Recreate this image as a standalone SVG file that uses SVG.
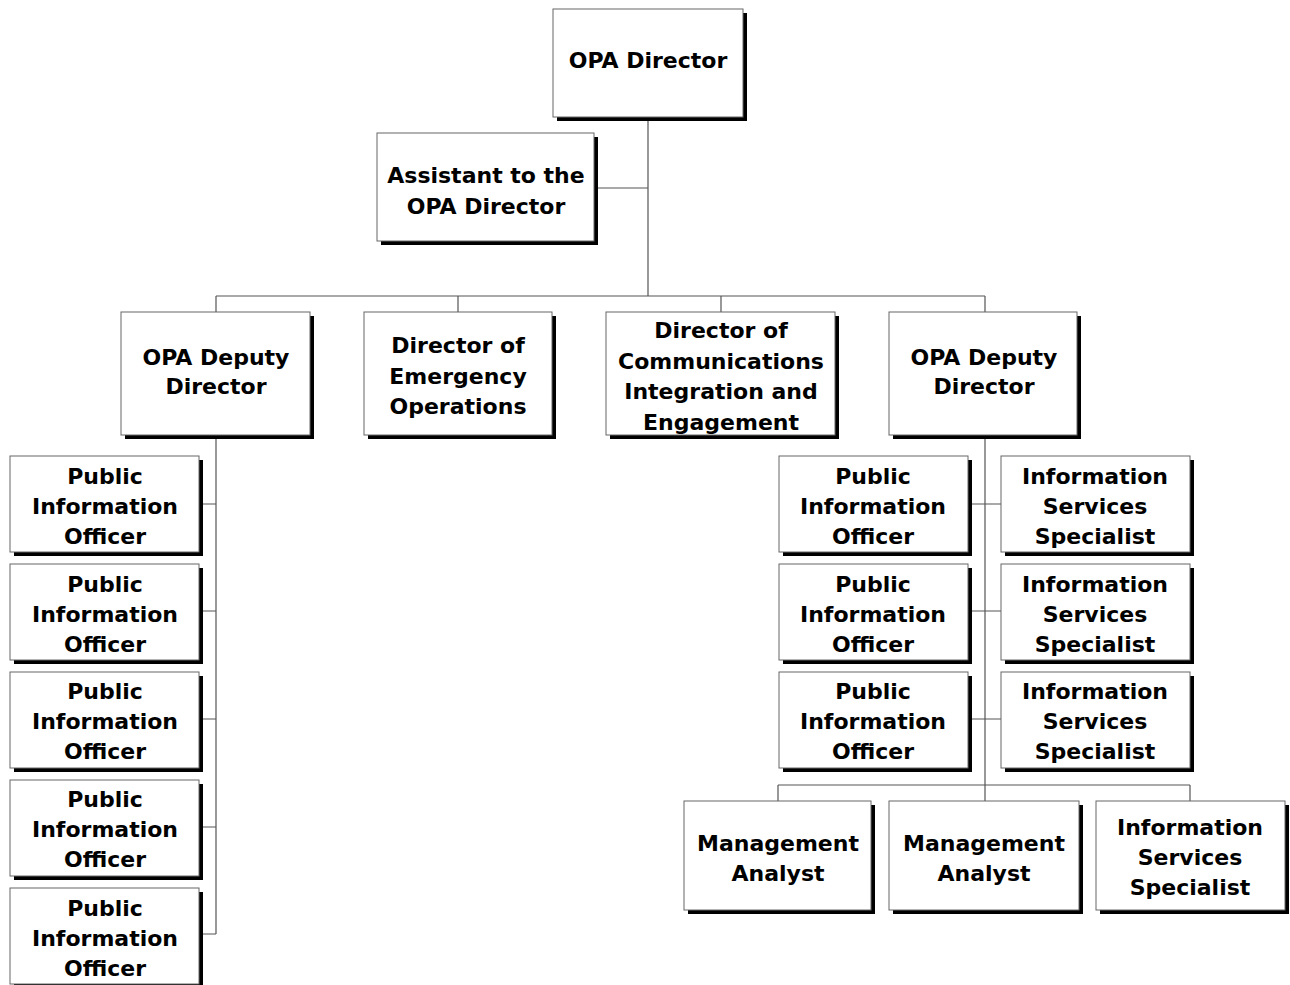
<svg xmlns="http://www.w3.org/2000/svg" width="1290" height="985" viewBox="0 0 1290 985">
<style>
.sh{fill:#000}
.bx{fill:#fff;stroke:#666;stroke-width:1}
.t{font-family:"DejaVu Sans",Verdana,sans-serif;font-weight:bold;font-size:22px;fill:#000;text-anchor:middle}
.c{fill:none;stroke:#555;stroke-width:1.2}
</style>
<rect width="1290" height="985" fill="#fff"/>
<g id="connectors">
<path class="c" d="M648 117V296M594 188H648M216 296H985M216 296V312M458 296V312M721 296V312M985 296V312"/>
<path class="c" d="M216 435V934M199 504H216M199 611H216M199 719H216M199 827H216M199 934H216"/>
<path class="c" d="M985 435V801M968 504H1001M968 611H1001M968 719H1001M778 785H1190M778 785V801M1190 785V801"/>
</g>
<g id="n-director"><rect class="sh" x="557" y="13" width="190" height="108"/><rect class="bx" x="553" y="9" width="190" height="108"/><text class="t" x="648" y="68">OPA Director</text></g>
<g id="n-assistant"><rect class="sh" x="381" y="137" width="217" height="108"/><rect class="bx" x="377" y="133" width="217" height="108"/><text class="t" x="486" y="183">Assistant to the</text><text class="t" x="486" y="214">OPA Director</text></g>
<g id="n-deputy1"><rect class="sh" x="125" y="316" width="189" height="123"/><rect class="bx" x="121" y="312" width="189" height="123"/><text class="t" x="216" y="365">OPA Deputy</text><text class="t" x="216" y="394">Director</text></g>
<g id="n-emergency"><rect class="sh" x="368" y="316" width="188" height="123"/><rect class="bx" x="364" y="312" width="188" height="123"/><text class="t" x="458" y="353">Director of</text><text class="t" x="458" y="384">Emergency</text><text class="t" x="458" y="414">Operations</text></g>
<g id="n-comm"><rect class="sh" x="610" y="316" width="229" height="123"/><rect class="bx" x="606" y="312" width="229" height="123"/><text class="t" x="721" y="338">Director of</text><text class="t" x="721" y="369">Communications</text><text class="t" x="721" y="399">Integration and</text><text class="t" x="721" y="430">Engagement</text></g>
<g id="n-deputy2"><rect class="sh" x="893" y="316" width="188" height="123"/><rect class="bx" x="889" y="312" width="188" height="123"/><text class="t" x="984" y="365">OPA Deputy</text><text class="t" x="984" y="394">Director</text></g>
<g id="n-lpio1"><rect class="sh" x="14" y="460" width="189" height="96"/><rect class="bx" x="10" y="456" width="189" height="96"/><text class="t" x="105" y="484">Public</text><text class="t" x="105" y="514">Information</text><text class="t" x="105" y="544">Officer</text></g>
<g id="n-lpio2"><rect class="sh" x="14" y="568" width="189" height="96"/><rect class="bx" x="10" y="564" width="189" height="96"/><text class="t" x="105" y="592">Public</text><text class="t" x="105" y="622">Information</text><text class="t" x="105" y="652">Officer</text></g>
<g id="n-lpio3"><rect class="sh" x="14" y="676" width="189" height="96"/><rect class="bx" x="10" y="672" width="189" height="96"/><text class="t" x="105" y="699">Public</text><text class="t" x="105" y="729">Information</text><text class="t" x="105" y="759">Officer</text></g>
<g id="n-lpio4"><rect class="sh" x="14" y="784" width="189" height="96"/><rect class="bx" x="10" y="780" width="189" height="96"/><text class="t" x="105" y="807">Public</text><text class="t" x="105" y="837">Information</text><text class="t" x="105" y="867">Officer</text></g>
<g id="n-lpio5"><rect class="sh" x="14" y="892" width="189" height="96"/><rect class="bx" x="10" y="888" width="189" height="96"/><text class="t" x="105" y="916">Public</text><text class="t" x="105" y="946">Information</text><text class="t" x="105" y="976">Officer</text></g>
<g id="n-rpio1"><rect class="sh" x="783" y="460" width="189" height="96"/><rect class="bx" x="779" y="456" width="189" height="96"/><text class="t" x="873" y="484">Public</text><text class="t" x="873" y="514">Information</text><text class="t" x="873" y="544">Officer</text></g>
<g id="n-rpio2"><rect class="sh" x="783" y="568" width="189" height="96"/><rect class="bx" x="779" y="564" width="189" height="96"/><text class="t" x="873" y="592">Public</text><text class="t" x="873" y="622">Information</text><text class="t" x="873" y="652">Officer</text></g>
<g id="n-rpio3"><rect class="sh" x="783" y="676" width="189" height="96"/><rect class="bx" x="779" y="672" width="189" height="96"/><text class="t" x="873" y="699">Public</text><text class="t" x="873" y="729">Information</text><text class="t" x="873" y="759">Officer</text></g>
<g id="n-iss1"><rect class="sh" x="1005" y="460" width="189" height="96"/><rect class="bx" x="1001" y="456" width="189" height="96"/><text class="t" x="1095" y="484">Information</text><text class="t" x="1095" y="514">Services</text><text class="t" x="1095" y="544">Specialist</text></g>
<g id="n-iss2"><rect class="sh" x="1005" y="568" width="189" height="96"/><rect class="bx" x="1001" y="564" width="189" height="96"/><text class="t" x="1095" y="592">Information</text><text class="t" x="1095" y="622">Services</text><text class="t" x="1095" y="652">Specialist</text></g>
<g id="n-iss3"><rect class="sh" x="1005" y="676" width="189" height="96"/><rect class="bx" x="1001" y="672" width="189" height="96"/><text class="t" x="1095" y="699">Information</text><text class="t" x="1095" y="729">Services</text><text class="t" x="1095" y="759">Specialist</text></g>
<g id="n-ma1"><rect class="sh" x="688" y="805" width="187" height="109"/><rect class="bx" x="684" y="801" width="187" height="109"/><text class="t" x="778" y="851">Management</text><text class="t" x="778" y="881">Analyst</text></g>
<g id="n-ma2"><rect class="sh" x="893" y="805" width="190" height="109"/><rect class="bx" x="889" y="801" width="190" height="109"/><text class="t" x="984" y="851">Management</text><text class="t" x="984" y="881">Analyst</text></g>
<g id="n-iss4"><rect class="sh" x="1100" y="805" width="189" height="109"/><rect class="bx" x="1096" y="801" width="189" height="109"/><text class="t" x="1190" y="835">Information</text><text class="t" x="1190" y="865">Services</text><text class="t" x="1190" y="895">Specialist</text></g>
</svg>
